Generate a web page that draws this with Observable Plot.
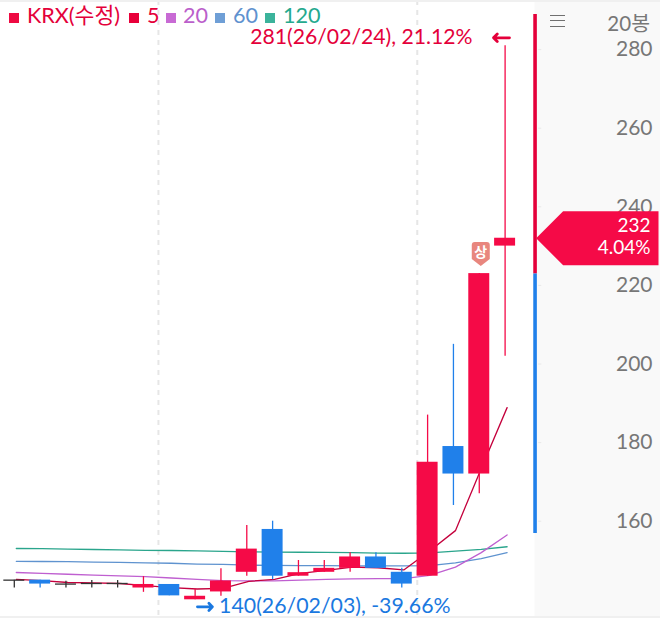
<!DOCTYPE html>
<html lang="ko">
<head>
<meta charset="utf-8">
<script src="https://cdn.jsdelivr.net/npm/d3@7"></script>
<script src="https://cdn.jsdelivr.net/npm/@observablehq/plot@0.6"></script>
<style>
html,body{margin:0;padding:0;background:#fff;}
#wrap{position:relative;width:660px;height:618px;overflow:hidden;font-family:Lato,"Noto Sans CJK KR",sans-serif;}
#wrap svg{display:block;}
#legend{position:absolute;left:0;top:0;height:30px;width:330px;font-size:21.6px;line-height:30px;}
#legend span{position:absolute;top:0;white-space:nowrap;}
#legend i{position:absolute;top:13px;width:10px;height:10px;display:block;}
#menu{position:absolute;left:550px;top:15px;width:15px;height:10px;border-top:1.5px solid #707070;border-bottom:1.5px solid #707070;}
#menu::after{content:"";position:absolute;left:0;right:0;top:4.2px;border-top:1.5px solid #707070;}
#count{position:absolute;right:10px;top:9px;font-size:20.5px;line-height:28px;color:#777;}
#topband,#botband{position:absolute;left:0;width:660px;background:#f0f0f0;}
#topband{top:0;height:2px;}
#botband{bottom:0;height:2px;}
</style>
</head>
<body>
<div id="wrap"></div>
<script>
const dates = d3.range(20);
const opens  = [145,145,144,144.15,144.15,143,143.9,140,142,147,157.9,146,147,148,150.9,147,146,179,172,230];
const closes = [145,144,144,144.15,144.15,143.9,141,140.9,144.8,152.9,146,146.9,148,150.9,148,144,175,172,223,232];
const highs  = [145,145,144.7,144.9,144.9,145.9,143.9,142.7,147.9,158.9,160,150,150,152,152,148,187,205,223,281];
const lows   = [143,143,143,143,143,141.9,141,140,140.9,146,145.1,146,147,147,148,143,146,164,167,202];
const ma5   = [145.2,144.9,144.4,144.3,144.15,143.6,143.1,142.75,142.9,144.7,145.2,146.7,147.5,148.3,148.15,147.6,152.4,157.6,173.4,188.9];
const ma20  = [146.95,146.74,146.5,146.3,146.1,145.9,145.55,145.2,144.9,144.8,144.8,145,145.2,145.3,145.4,145.4,146.2,148.3,152,156.5];
const ma60  = [149.8,149.75,149.7,149.6,149.5,149.4,149.3,149.1,149,148.8,148.75,148.7,148.7,148.65,148.65,148.65,148.7,149.4,150.5,152];
const ma120 = [153.05,153,152.9,152.8,152.7,152.6,152.55,152.45,152.3,152.2,152.15,152.1,152.05,152,151.9,151.85,151.95,152.4,152.85,153.5];
const yTicks = [160,180,200,220,240,260,280];
const monthBreaks = [5.58,15.6];
const legendLabels = ["KRX(수정)","5","20","60","120"];
const RED="#f50a47", BLUE="#2080ea", DOJI="#333333", MAXC="#e4003a", MINC="#1a78e0";
const maColors=["#c4003c","#bf5fd0","#5f93cf","#2aa58c"];
const legendText=["#e4003a","#e4003a","#bb5fcb","#5f92cf","#25a98e"];
const legendSq=["#ee0a42","#e8003a","#c86ad4","#6f9fd6","#3bb39b"];
const legendXs=[[9,27],[129,147],[166,183],[215,233],[265,283]];
const priceSplit=222.9, priceTop=288.9, priceBottom=156.9, lastClose=closes[19], lastHigh=highs[19], periodLow=lows[7];

const idx=dates;
const color=i=>closes[i]===opens[i]?DOJI:closes[i]>opens[i]?RED:BLUE;
const bodies=idx.filter(i=>closes[i]!==opens[i]);
const dojis=idx.filter(i=>closes[i]===opens[i]);

function callout(index,{x,y}){
  const px=x(20.22), py=y(lastClose);
  const g=d3.create("svg:g");
  g.append("path")
    .attr("d",`M${px},${py+0.5}L${px+27},${py-26.5}H658.5V${py+27.5}H${px+27}Z`)
    .attr("fill",RED);
  g.append("text").attr("x",650.5).attr("y",py-12).attr("dy","0.35em").attr("text-anchor","end")
    .attr("fill","#fff").attr("font-size",19).text(String(lastClose));
  g.append("text").attr("x",650.5).attr("y",py+10).attr("dy","0.35em").attr("text-anchor","end")
    .attr("fill","#fff").attr("font-size",19).text("4.04%");
  return g.node();
}
function badge(index,{x,y}){
  const cx=x(18)+2, top=y(highs[18])-31;
  const g=d3.create("svg:g");
  g.append("path")
    .attr("d",`M${cx-9},${top+3}Q${cx-9},${top} ${cx-6},${top}H${cx+6}Q${cx+9},${top} ${cx+9},${top+3}V${top+17}L${cx},${top+24}L${cx-9},${top+17}Z`)
    .attr("fill","#e8867e");
  g.append("text").attr("x",cx).attr("y",top+10).attr("dy","0.35em").attr("text-anchor","middle")
    .attr("fill","#fff").attr("font-weight",700).attr("font-size",14)
    .attr("font-family",'"Noto Sans CJK KR"').text("상");
  return g.node();
}
const maMark=(vals,c)=>Plot.line(idx,{x:i=>i,y:i=>vals[i],stroke:c,strokeWidth:1.3,dx:2,curve:"linear"});

const chart=Plot.plot({
  width:660,height:618,margin:0,
  style:{fontFamily:'Lato,"Noto Sans CJK KR",sans-serif',background:"transparent"},
  x:{type:"linear",domain:[0,19],range:[13.8,504.6],axis:null},
  y:{type:"linear",domain:[160,280],range:[520.7,49.1],axis:null},
  marks:[
    Plot.rect([0],{x1:20.16,x2:26,fill:"#f9f9f9"}),
    Plot.ruleX(monthBreaks,{stroke:"#e6e6e6",strokeWidth:2,strokeDasharray:"5 5"}),
    Plot.ruleY(yTicks,{x1:20.3,x2:20.42,stroke:"#e8e8e8"}),
    maMark(ma120,maColors[3]),
    maMark(ma60,maColors[2]),
    maMark(ma20,maColors[1]),
    maMark(ma5,maColors[0]),
    Plot.ruleX(idx,{x:i=>i,y1:i=>lows[i],y2:i=>highs[i],stroke:color,strokeWidth:1.3}),
    Plot.rect(bodies,{x1:i=>i-0.406,x2:i=>i+0.406,y1:i=>opens[i],y2:i=>closes[i],fill:color}),
    Plot.ruleY(dojis,{y:i=>closes[i],x1:i=>i-0.406,x2:i=>i+0.406,stroke:DOJI,strokeWidth:1.3}),
    Plot.ruleX([20.16],{y1:priceSplit,y2:priceTop,stroke:MAXC,strokeWidth:3.6}),
    Plot.ruleX([20.16],{y1:priceBottom,y2:priceSplit,stroke:BLUE,strokeWidth:3.6}),
    Plot.axisY(yTicks,{anchor:"right",tickSize:0,tickPadding:-8,textAnchor:"end",fontSize:21,fill:"#777",label:null}),
    Plot.text(["281(26/02/24), 21.12%"],{x:19,y:lastHigh,dx:-32.5,dy:-8,textAnchor:"end",fill:MAXC,fontSize:21.2}),
    Plot.arrow([0],{x1:19.17,x2:18.55,y1:lastHigh+2,y2:lastHigh+2,bend:0,headLength:9,headAngle:90,strokeWidth:2.8,stroke:MAXC}),
    Plot.text(["140(26/02/03), -39.66%"],{x:7,y:periodLow,dx:24,dy:6,textAnchor:"start",fill:MINC,fontSize:21.3}),
    Plot.arrow([0],{x1:7.09,x2:7.67,y1:periodLow-1.8,y2:periodLow-1.8,bend:0,headLength:9,headAngle:90,strokeWidth:2.8,stroke:MINC}),
    badge,
    callout
  ]
});
const wrap=document.getElementById("wrap");
wrap.appendChild(chart);
const legend=document.createElement("div");legend.id="legend";
legendLabels.forEach((t,k)=>{
  const sq=document.createElement("i");sq.style.left=legendXs[k][0]+"px";sq.style.background=legendSq[k];legend.appendChild(sq);
  const s=document.createElement("span");s.style.left=legendXs[k][1]+"px";s.style.color=legendText[k];s.textContent=t;legend.appendChild(s);
});
wrap.appendChild(legend);
for(const [id,txt] of [["topband",""],["botband",""],["menu",""],["count","20봉"]]){
  const d=document.createElement("div");d.id=id;d.textContent=txt;wrap.appendChild(d);
}
</script>
</body>
</html>
